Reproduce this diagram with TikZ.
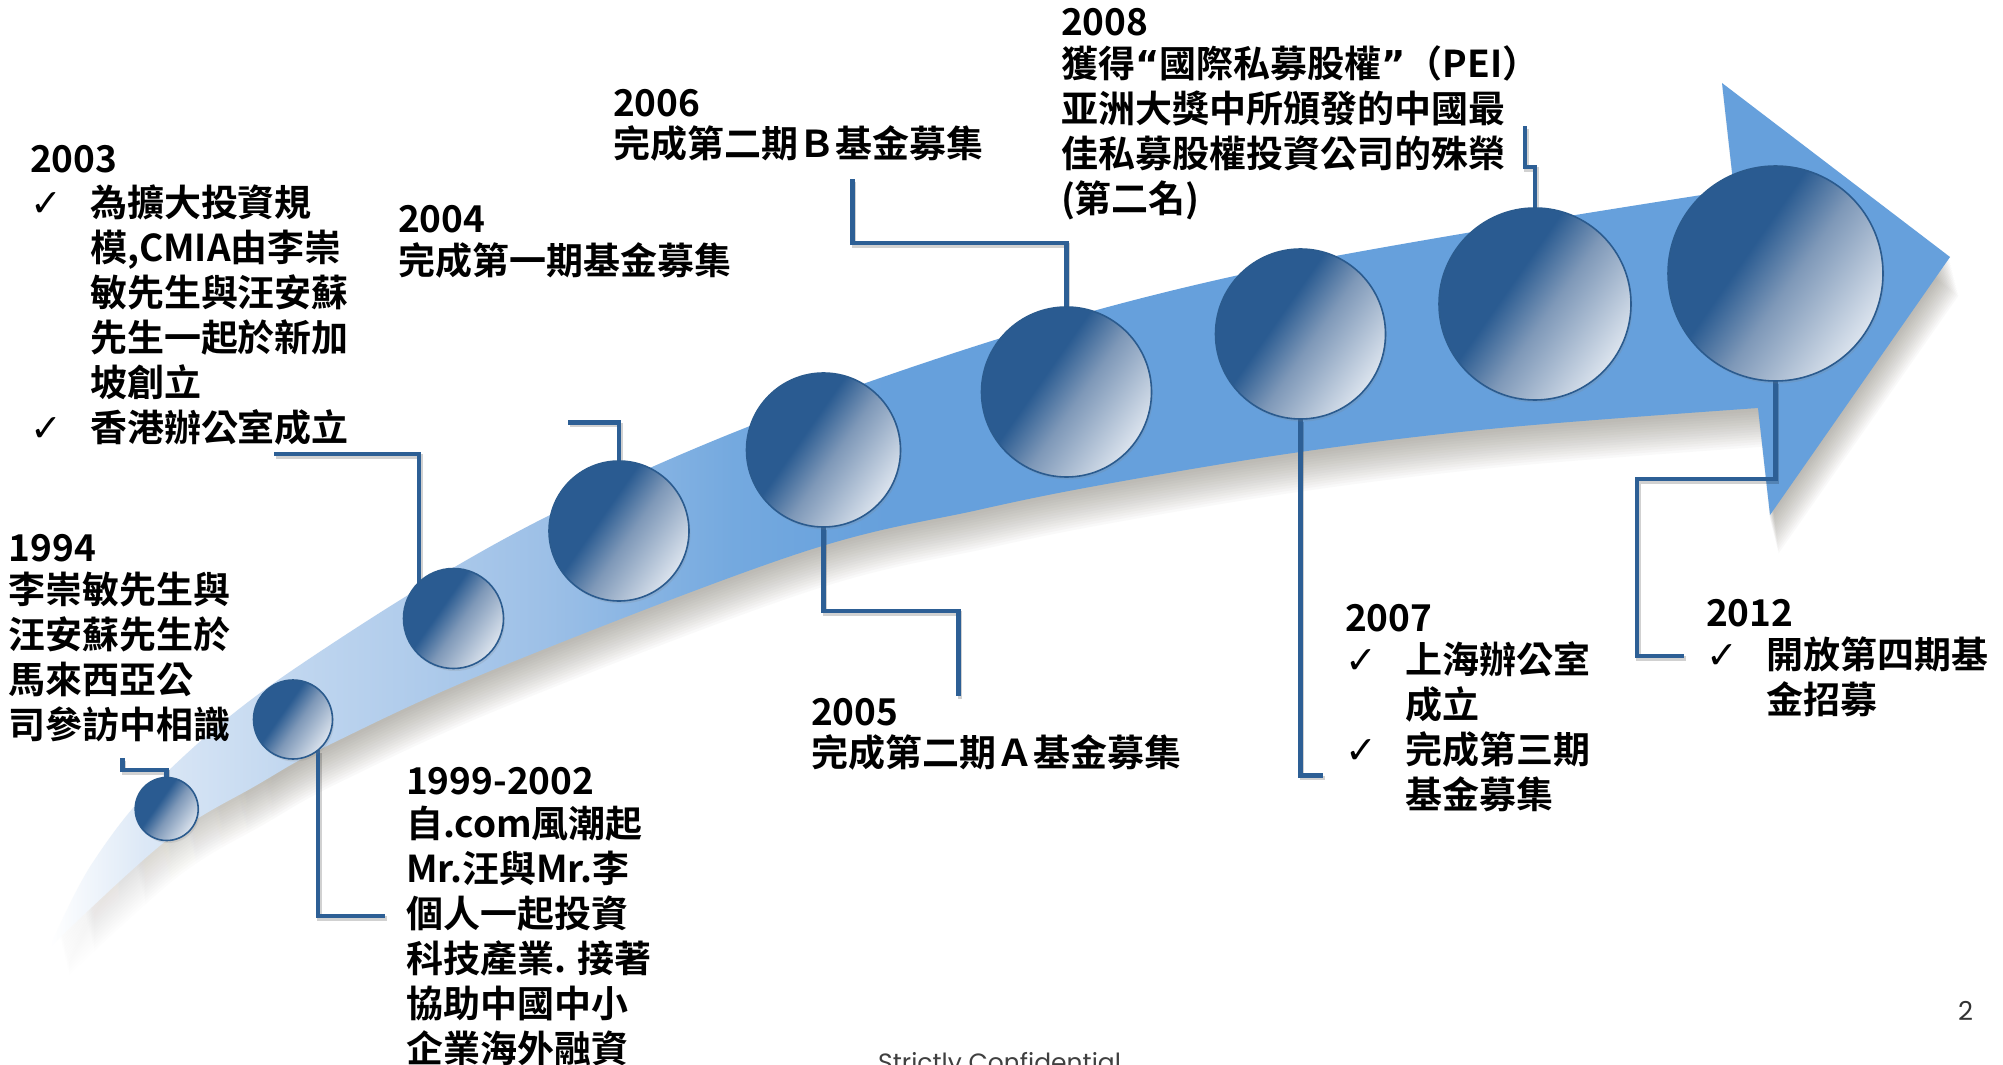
\documentclass[tikz,border=0pt]{standalone}
\usepackage{fontspec}
\newfontfamily\cjkfont{Noto Sans CJK TC Bold}
\newfontfamily\ckfont{DejaVu Sans}
\newfontfamily\popfont{Poppins}
\usetikzlibrary{shadows,fadings}

\definecolor{rbA}{HTML}{DCE8F6}
\definecolor{rbB}{HTML}{C0D6EF}
\definecolor{rbC}{HTML}{9DC0E7}
\definecolor{rbD}{HTML}{74A9DF}
\definecolor{rbE}{HTML}{66A0DC}
\definecolor{orbD}{HTML}{2A5B91}
\definecolor{orbM}{HTML}{7E98B8}
\definecolor{orbL}{HTML}{DCE4EE}
\definecolor{orbedge}{HTML}{2B5B8E}
\definecolor{connblue}{HTML}{2D5F95}
\definecolor{shadowcol}{RGB}{110,105,90}

\pgfdeclarehorizontalshading{ribbonsh}{100bp}{color(0bp)=(white); color(25bp)=(white); color(27.5bp)=(rbA); color(31.5bp)=(rbB); color(38bp)=(rbC); color(43bp)=(rbD); color(47bp)=(rbE); color(75bp)=(rbE); color(100bp)=(rbE)}
\pgfdeclareverticalshading{orbsh}{100bp}{color(0bp)=(orbL); color(25bp)=(orbL); color(46bp)=(orbM); color(58bp)=(orbD); color(75bp)=(orbD); color(100bp)=(orbD)}
\pgfdeclarehorizontalshading{shfadesh}{100bp}{color(0bp)=(pgftransparent!100); color(25bp)=(pgftransparent!100); color(31bp)=(pgftransparent!0); color(100bp)=(pgftransparent!0)}
\pgfdeclarefading{shfade}{\pgfuseshading{shfadesh}}

\pgfdeclarelayer{bg}
\pgfdeclarelayer{conn}
\pgfsetlayers{bg,conn,main}

\newcommand\tl[1]{\vtop{\lineskiplimit=-100pt\lineskip=0pt\baselineskip=45pt\halign{##\hfil\cr#1\crcr}}}
\newcommand\ck{\hbox to 60pt{\hskip0pt{\ckfont\fontsize{38}{45}\selectfont ✓}\hfil}}
\newcommand\ind{\hbox to 60pt{}}
\newcommand\qopen{{\ckfont\bfseries “}}
\newcommand\qclose{{\ckfont\bfseries ”}}
\newcommand\ribbonpath{plot[smooth, tension=0.6] coordinates {(50,947) (93,862) (167,772) (300,665) (550,515) (860,385) (1230,277) (1734,190)} -- (1722,83) -- (1950,257) -- (1770,515) -- (1758,408) -- plot[smooth, tension=0.6] coordinates {(1758,408) (1500,428) (1300,452) (1112,483) (978,510) (800,553) (500,667) (333,743) (257,785) (167,840) (50,947)} -- cycle}
\newcommand\conn[1]{\draw[cshadow] #1; \draw[connector] #1;}

\begin{document}
\begin{tikzpicture}[x=1pt,y=-1pt,
  orb/.style={circle, inner sep=0pt, outer sep=0pt, draw=orbedge, line width=1.6pt, shading=orbsh, shading angle=55,
    drop shadow={opacity=0.18, shadow xshift=1.5pt, shadow yshift=-2.5pt}},
  lbl/.style={anchor=base west, inner sep=0pt, outer sep=0pt, font=\cjkfont\fontsize{37}{45}\selectfont, text=black},
  connector/.style={draw=connblue, line width=4.5pt, line join=miter},
  cshadow/.style={draw=black, opacity=0.18, line width=4.5pt, transform canvas={shift={(1.5,2.5)}}}]
\useasboundingbox (0,0) rectangle (2003,1065);

\begin{pgfonlayer}{bg}
  \fill[white] (0,0) rectangle (2003,1065);
  \foreach \k in {2.5,5,...,37.5} {
    \fill[shadowcol, opacity=0.035, path fading=shfade, shift={(0.25*\k,\k)}] \ribbonpath;
  }
  \shade[shading=ribbonsh] \ribbonpath;
\end{pgfonlayer}

% circles
\node[orb, minimum size=63] (c1) at (166.7,809) {};
\node[orb, minimum size=79] (c2) at (293,719.5) {};
\node[orb, minimum size=100] (c3) at (453.5,618.5) {};
\node[orb, minimum size=140] (c4) at (619,531) {};
\node[orb, minimum size=154] (c5) at (823.5,450) {};
\node[orb, minimum size=170] (c6) at (1066.5,392) {};
\node[orb, minimum size=170] (c7) at (1300.5,334) {};
\node[orb, minimum size=192] (c8) at (1535,304) {};
\node[orb, minimum size=215] (c9) at (1775.5,273.5) {};

% connector free ends
\coordinate (k1) at (122.7,758);
\coordinate (k2) at (385,916);
\coordinate (k3) at (274,454);
\coordinate (k4) at (568,422.5);
\coordinate (k5) at (958.5,696);
\coordinate (k6) at (852.5,179);
\coordinate (k7) at (1323,775.5);
\coordinate (k8) at (1525,126);
\coordinate (k9) at (1684,656);

\begin{pgfonlayer}{conn}
  \conn{(k1) -- ++(0,12) -| (c1.north)}
  \conn{(c2.-51) |- (k2)}
  \conn{(k3) -| (c3.134)}
  \conn{(k4) -| (c4.north)}
  \conn{(c5.south) -- ++(0,84) -| (k5)}
  \conn{(k6) -- ++(0,64) -| (c6.north)}
  \conn{(c7.south) |- (k7)}
  \conn{(k8) -- ++(0,41) -| (c8.north)}
  \conn{(c9.south) -- ++(0,98) -- ++(-138.5,0) |- (k9)}
\end{pgfonlayer}

% labels
\node[lbl] (t1994) at (9,561) {\tl{1994\cr\noalign{\kern-3pt}李崇敏先生與\cr 汪安蘇先生於\cr 馬來西亞公\cr 司參訪中相識}};
\node[lbl] (t1999) at (406,794) {\tl{1999-2002\cr\noalign{\kern-2pt}自.com風潮起\cr Mr.汪與Mr.李\cr 個人一起投資\cr 科技產業. 接著\cr 協助中國中小\cr 企業海外融資}};
\node[lbl] (t2003) at (30,172) {\tl{2003\cr\noalign{\kern-1pt}\ck 為擴大投資規\cr\ind 模,CMIA由李崇\cr\ind 敏先生與汪安蘇\cr\ind 先生一起於新加\cr\ind 坡創立\cr\ck 香港辦公室成立}};
\node[lbl] (t2004) at (398,232) {\tl{2004\cr\noalign{\kern-3pt}完成第一期基金募集}};
\node[lbl] (t2005) at (811,725) {\tl{2005\cr\noalign{\kern-4pt}完成第二期Ａ基金募集}};
\node[lbl] (t2006) at (613,117) {\tl{2006\cr\noalign{\kern-5pt}完成第二期Ｂ基金募集}};
\node[lbl] (t2007) at (1345,631) {\tl{2007\cr\noalign{\kern-3pt}\ck 上海辦公室\cr\ind 成立\cr\ck 完成第三期\cr\ind 基金募集}};
\node[lbl] (t2008) at (1061,36) {\tl{2008\cr\noalign{\kern-3pt}獲得\qopen 國際私募股權\qclose（PEI）\cr 亚洲大獎中所頒發的中國最\cr 佳私募股權投資公司的殊榮\cr (第二名)}};
\node[lbl] (t2012) at (1706,626) {\tl{2012\cr\noalign{\kern-3pt}\ck 開放第四期基\cr\ind 金招募}};

\node[anchor=base west, inner sep=0pt, font=\popfont\fontsize{25}{30}\selectfont, text=black!75] (conf) at (878,1071) {Strictly Confidential};
\node[anchor=base west, inner sep=0pt, font=\popfont\fontsize{26}{30}\selectfont, text=black!80] (pg) at (1958,1020) {2};
\end{tikzpicture}
\end{document}
